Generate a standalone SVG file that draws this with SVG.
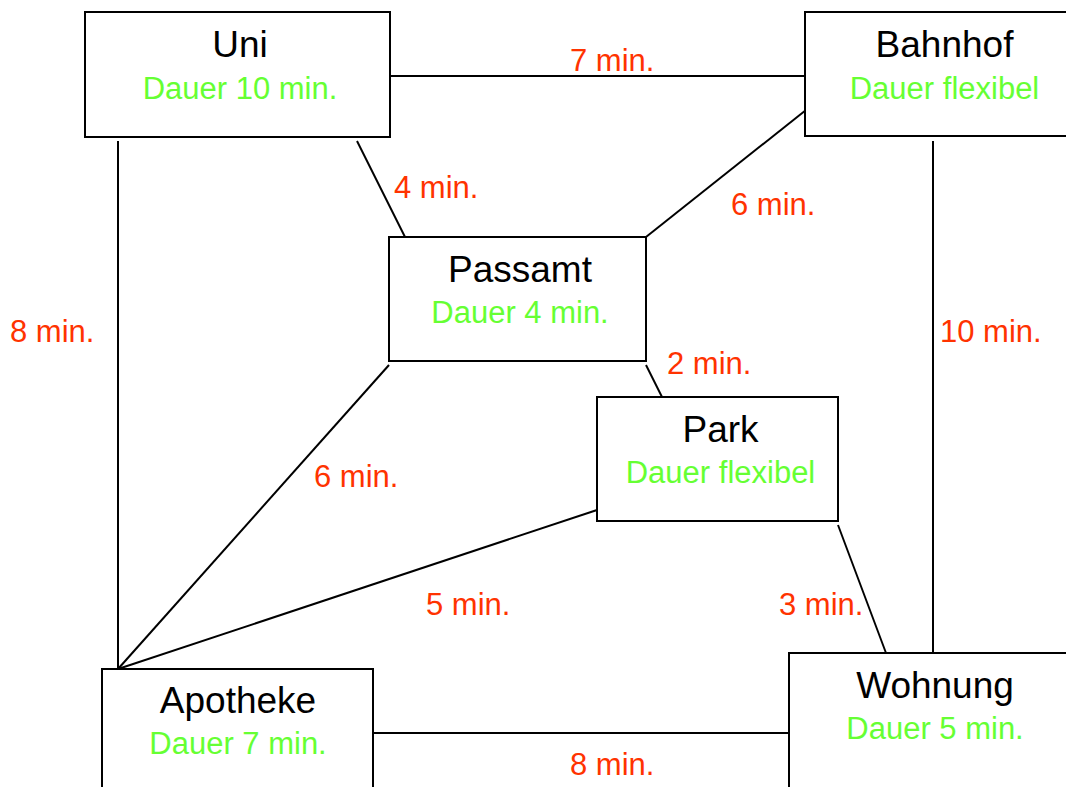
<svg xmlns="http://www.w3.org/2000/svg" width="1066" height="787" viewBox="0 0 1066 787">
<style>
.box{fill:#fff;stroke:#000;stroke-width:2}
.t{font-family:"Liberation Sans",Arial,sans-serif;font-size:37px;fill:#000;text-anchor:middle}
.d{font-family:"Liberation Sans",Arial,sans-serif;font-size:31px;fill:#66ff33;text-anchor:middle}
.l{font-family:"Liberation Sans",Arial,sans-serif;font-size:31px;fill:#ff3300}
.e{stroke:#000;stroke-width:2;fill:none}
</style>
<rect width="1066" height="787" fill="#fff"/>
<g id="connectors">
<line class="e" x1="390" y1="76" x2="805" y2="76"/>
<line class="e" x1="357" y1="141" x2="405" y2="237"/>
<line class="e" x1="118" y1="141" x2="118" y2="669"/>
<line class="e" x1="806" y1="110" x2="646" y2="237"/>
<line class="e" x1="933" y1="141" x2="933" y2="653"/>
<line class="e" x1="646" y1="365" x2="662" y2="397"/>
<line class="e" x1="389" y1="365" x2="118" y2="669"/>
<line class="e" x1="597" y1="510" x2="118" y2="669"/>
<line class="e" x1="838" y1="525" x2="886" y2="653"/>
<line class="e" x1="373" y1="733" x2="789" y2="733"/>
<text class="l" x="570" y="71">7 min.</text>
<text class="l" x="394" y="198">4 min.</text>
<text class="l" x="731" y="215">6 min.</text>
<text class="l" x="10" y="342">8 min.</text>
<text class="l" x="940" y="342">10 min.</text>
<text class="l" x="667" y="374">2 min.</text>
<text class="l" x="314" y="487">6 min.</text>
<text class="l" x="426" y="615">5 min.</text>
<text class="l" x="779" y="615">3 min.</text>
<text class="l" x="570" y="775">8 min.</text>
</g>
<g id="uni">
<rect class="box" x="85" y="12" width="305" height="125"/>
<text class="t" x="240" y="57">Uni</text>
<text class="d" x="240" y="99">Dauer 10 min.</text>
</g>
<g id="bahnhof">
<rect class="box" x="805" y="12" width="280" height="124"/>
<text class="t" x="944.5" y="57">Bahnhof</text>
<text class="d" x="944.5" y="99">Dauer flexibel</text>
</g>
<g id="passamt">
<rect class="box" x="389" y="237" width="257" height="124"/>
<text class="t" x="520" y="282">Passamt</text>
<text class="d" x="520" y="323">Dauer 4 min.</text>
</g>
<g id="park">
<rect class="box" x="597" y="397" width="241" height="124"/>
<text class="t" x="720.5" y="442">Park</text>
<text class="d" x="720.5" y="483">Dauer flexibel</text>
</g>
<g id="apotheke">
<rect class="box" x="102" y="669" width="271" height="130"/>
<text class="t" x="238" y="713">Apotheke</text>
<text class="d" x="238" y="754">Dauer 7 min.</text>
</g>
<g id="wohnung">
<rect class="box" x="789" y="653" width="291" height="146"/>
<text class="t" x="935" y="698">Wohnung</text>
<text class="d" x="935" y="739">Dauer 5 min.</text>
</g>
</svg>
